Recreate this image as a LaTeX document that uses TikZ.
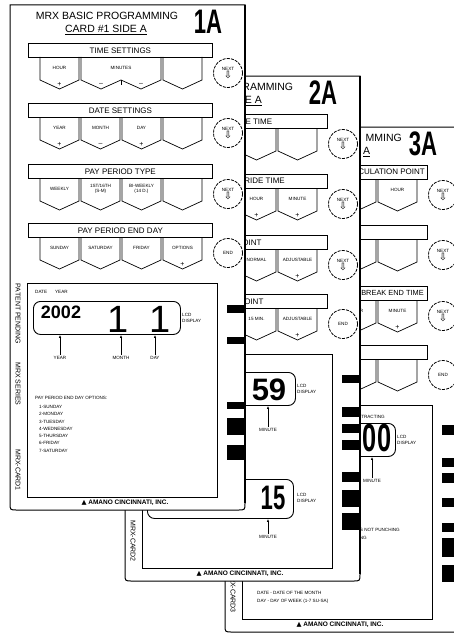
\documentclass[tikz,border=0pt]{standalone}
\usepackage{fontspec}
\setmainfont{Liberation Sans}
\newfontfamily\numfont{Liberation Sans}[FakeStretch=0.65]
\newfontfamily\arrowfont{DejaVu Sans}
\usetikzlibrary{
    arrows.meta,
    positioning,
    calc
}

\tikzset{
    card/.style={draw, fill=white, line width=1pt},
    cardedge/.style={line width=2pt},
    panel/.style={draw, line width=0.8pt},
    hdr/.style={draw, fill=white, line width=0.8pt, minimum width=184pt,
        minimum height=14pt, inner sep=0pt, anchor=north west},
    hdrtext/.style={font=\fontsize{8}{8}\selectfont, inner sep=0pt},
    keybox/.style={draw, line width=0.7pt},
    keytext/.style={font=\fontsize{4.6}{5.4}\selectfont, align=center, inner sep=0pt},
    signtext/.style={font=\fontsize{7}{7}\selectfont, inner sep=0pt},
    nextbtn/.style={circle, draw, fill=white, dash pattern=on 3pt off 1.2pt,
        line width=0.8pt, minimum size=29pt, inner sep=0pt, align=center,
        font=\fontsize{4.6}{6}\selectfont},
    lcd/.style={draw, line width=0.9pt, rounded corners=7pt, anchor=north west},
    tinytext/.style={font=\fontsize{4.6}{5.4}\selectfont, inner sep=0pt},
    listtext/.style={font=\fontsize{4.6}{7.3}\selectfont, align=left,
        inner sep=0pt, anchor=north west},
    ptr/.style={-{Latex[length=3pt,width=2.4pt]}, line width=0.6pt, shorten <=1.5pt},
    sidetext/.style={font=\fontsize{7}{7}\selectfont, rotate=-90, inner sep=0pt},
    maker/.style={font=\bfseries\fontsize{6.5}{7}\selectfont, inner sep=0pt},
    titletext/.style={font=\fontsize{10.5}{11}\selectfont, inner sep=0pt},
    cardnum/.style={font=\numfont\bfseries\fontsize{34}{34}\selectfont, inner sep=0pt},
    digits/.style={font=\bfseries\fontsize{#1}{#1}\selectfont, inner sep=0pt},
    slimdigits/.style={font=\numfont\bfseries\fontsize{#1}{#1}\selectfont, inner sep=0pt},
    codebar/.style={fill=black},
    pics/cardbase/.style={code={
        \filldraw[card] (10,5) -- (10,503) .. controls (10,510) .. (17,510)
            -- (238,510) .. controls (245,510) .. (245,503) -- (245,5) -- cycle;
        \draw[cardedge] (245,5) -- (245,503);
        \node[cardnum] (-num) at (208,22) {#1A};
        \foreach \t [count=\i] in {43,103,164,223}
            \node[hdr] (-h\i) at (28,\t) {};
        \foreach \t [count=\i] in {43,103,164}
            \node[nextbtn] (-n\i) at (228,\t+30)
                {NEXT\\[-1pt]{\arrowfont\fontsize{10}{10}\selectfont ⇩}};
        \node[nextbtn] (-n4) at (228,253) {END};
        \draw[panel] (27,283) rectangle (217,497);
        \node[lcd, minimum width=147pt, minimum height=33pt] (-lcd) at (33,301) {};
        \node[tinytext, align=left, anchor=west] (-lcdtag) at (182,318) {LCD\\DISPLAY};
        \node[sidetext] (-code) at (18,470) {MRX-CARD#1};
        \node[maker] (-maker) at (125,503) {{\arrowfont ▲} AMANO CINCINNATI, INC.};
    }}
}

\begin{document}
\begin{tikzpicture}[x=1pt, y=-1pt]
\useasboundingbox (0,0) rectangle (454,634);
\fill[white] (0,0) rectangle (454,634);
\clip (0,0) rectangle (454,634);

% card 3 (back), only the end of its title shows past card 2
\pic (c3) at (215,122) {cardbase=3};
\begin{scope}[shift={(215,122)}]
    \node[titletext, anchor=east] (c3title) at (187,16) {MMING};
    \node[titletext, anchor=west] (c3side) at (148,30) {\underline{A}};
    \node[hdrtext, anchor=east] (c3t1) at (210,50) {CALCULATION POINT};
    \node[hdrtext, anchor=east, font=\fontsize{7.4}{8}\selectfont] (c3t3) at (209,171) {BREAK END TIME};
    \foreach \t in {57,117,178,237}
        \foreach \a in {122,163}
            \draw[keybox] (\a,\t) -- (\a,\t+23) -- (\a+19.5,\t+32) -- (\a+39,\t+23) -- (\a+39,\t);
    \node[keytext] (c3k1) at (182.5,68) {HOUR};
    \node[keytext] (c3k2) at (141.5,189) {HOUR};
    \node[keytext] (c3k3) at (182.5,189) {MINUTE};
    \node[signtext] (c3s2) at (141.5,205) {+};
    \node[signtext] (c3s3) at (182.5,205) {+};
    \node[tinytext, anchor=east] (c3sub) at (170,295) {AUTOMATIC BREAK TIME SUBTRACTING};
    \node[slimdigits=39] (c3min) at (162,316) {00};
    \node[tinytext] (c3lbl) at (157,359) {MINUTE};
    \draw[ptr] (c3lbl.north) -- (c3lbl.north |- c3-lcd.south);
    \node[tinytext, anchor=east] (c3p1) at (185,408) {DEDUCTED WHEN EMPLOYEE IS NOT PUNCHING};
    \node[tinytext, anchor=east] (c3p2) at (152,416) {OR NOT PUNCHING};
    \node[tinytext, anchor=west] (c3date) at (42,471) {DATE - DATE OF THE MONTH};
    \node[tinytext, anchor=west] (c3day) at (42,479) {DAY - DAY OF WEEK (1-7 SU-SA)};
    \foreach \y/\h in {303/10,336/9,351/10,376/9,401/9,416/19,443/17}
        \fill[codebar] (227,\y) rectangle (245,\y+\h);
\end{scope}

% card 2 (middle)
\pic (c2) at (115,71) {cardbase=2};
\begin{scope}[shift={(115,71)}]
    \node[titletext] (c2title) at (107,16) {MRX BASIC PROGRAMMING};
    \node[titletext] (c2side) at (106,30) {\underline{CARD \#2 SIDE A}};
    \node[hdrtext] (c2t1) at (c2-h1) {DAY CHANGE TIME};
    \node[hdrtext, anchor=east] (c2t2) at (170,110) {SHIFT OVERRIDE TIME};
    \node[hdrtext] (c2t3) at (c2-h3) {START POINT};
    \node[hdrtext] (c2t4) at (c2-h4) {ROUND POINT};
    \foreach \t in {57,117,178,237}
        \foreach \a in {122,163}
            \draw[keybox] (\a,\t) -- (\a,\t+23) -- (\a+19.5,\t+32) -- (\a+39,\t+23) -- (\a+39,\t);
    \foreach \x/\y/\txt [count=\i] in {141.5/128/HOUR, 182.5/128/MINUTE,
        141.5/189/NORMAL, 182.5/189/ADJUSTABLE, 141.5/248/15 MIN., 182.5/248/ADJUSTABLE}
        \node[keytext] (c2k\i) at (\x,\y) {\txt};
    \foreach \x/\y [count=\i] in {141.5/144, 182.5/144, 182.5/205, 182.5/264}
        \node[signtext] (c2s\i) at (\x,\y) {+};
    \node[digits=31] (c2min) at (154,319) {59};
    \node[tinytext] (c2lbl) at (153,359) {MINUTE};
    \draw[ptr] (c2lbl.north) -- (c2lbl.north |- c2-lcd.south);
    \node[lcd, minimum width=146pt, minimum height=39pt] (c2lcdb) at (32,408) {};
    \node[slimdigits=34] (c2max) at (158,427) {15};
    \node[tinytext, align=left, anchor=west] (c2tagb) at (182,427) {LCD\\DISPLAY};
    \node[tinytext] (c2lblb) at (153,466) {MINUTE};
    \draw[ptr] (c2lblb.north) -- (c2lblb.north |- c2lcdb.south);
    \foreach \y/\h in {304/8,336/10,353/9,369/10,401/10,419/17,442/17}
        \fill[codebar] (227,\y) rectangle (245,\y+\h);
\end{scope}

% card 1 (front)
\pic (c1) at (0,0) {cardbase=1};
\node[titletext] (c1title) at (107,16) {MRX BASIC PROGRAMMING};
\node[titletext] (c1side) at (106,30) {\underline{CARD \#1 SIDE A}};
\node[hdrtext] (c1t1) at (c1-h1) {TIME SETTINGS};
\node[hdrtext] (c1t2) at (c1-h2) {DATE SETTINGS};
\node[hdrtext] (c1t3) at (c1-h3) {PAY PERIOD TYPE};
\node[hdrtext] (c1t4) at (c1-h4) {PAY PERIOD END DAY};
\draw[keybox] (40,57) -- (40,80) -- (59.5,89) -- (79,80) -- (79,57);
\draw[keybox] (81,57) -- (81,80) -- (101,89) -- (121,80) -- (141,89) -- (161,80) -- (161,57);
\draw[keybox] (121,80) -- (121,85);
\draw[keybox] (163,57) -- (163,80) -- (182.5,89) -- (202,80) -- (202,57);
\foreach \t in {117,178,237}
    \foreach \a in {40,81,122,163}
        \draw[keybox] (\a,\t) -- (\a,\t+23) -- (\a+19.5,\t+32) -- (\a+39,\t+23) -- (\a+39,\t);
\foreach \x/\y/\txt [count=\i] in {59.5/68/HOUR, 121/68/MINUTES,
    59.5/128/YEAR, 100.5/128/MONTH, 141.5/128/DAY,
    59.5/189/WEEKLY, 100.5/189/{1ST/16TH\\(S-M)}, 141.5/189/{BI-WEEKLY\\(14 D.)},
    59.5/248/SUNDAY, 100.5/248/SATURDAY, 141.5/248/FRIDAY, 182.5/248/OPTIONS}
    \node[keytext] (c1k\i) at (\x,\y) {\txt};
\foreach \x/\y/\s [count=\i] in {59.5/84/+, 101/84/--, 141/84/--,
    59.5/144/+, 100.5/144/--, 141.5/144/+, 182.5/264/+}
    \node[signtext] (c1s\i) at (\x,\y) {\s};
\node[tinytext, anchor=west] (c1cap) at (35,292) {DATE\hspace{8pt}YEAR};
\node[digits=18] (c1yy) at (61,312) {2002};
\node[font=\fontsize{38}{38}\selectfont, inner sep=0pt] (c1mm) at (118,319) {1};
\node[font=\fontsize{38}{38}\selectfont, inner sep=0pt] (c1dd) at (160,319) {1};
\node[tinytext] (c1yr) at (60,358) {YEAR};
\node[tinytext] (c1mo) at (121,358) {MONTH};
\node[tinytext] (c1dy) at (155,358) {DAY};
\foreach \n in {yr,mo,dy}
    \draw[ptr] (c1\n.north) -- (c1\n.north |- c1-lcd.south);
\node[tinytext, anchor=west] (c1opt) at (35,398) {PAY PERIOD END DAY OPTIONS:};
\node[listtext] (c1days) at (39,405)
    {1-SUNDAY\\2-MONDAY\\3-TUESDAY\\4-WEDNESDAY\\5-THURSDAY\\6-FRIDAY\\7-SATURDAY};
\node[sidetext] (c1pat) at (18,314) {PATENT PENDING};
\node[sidetext] (c1ser) at (18,384) {MRX SERIES};
\foreach \y/\h in {305/8,337/7,402/7,418/17,445/15}
    \fill[codebar] (227,\y) rectangle (245,\y+\h);
\end{tikzpicture}
\end{document}
